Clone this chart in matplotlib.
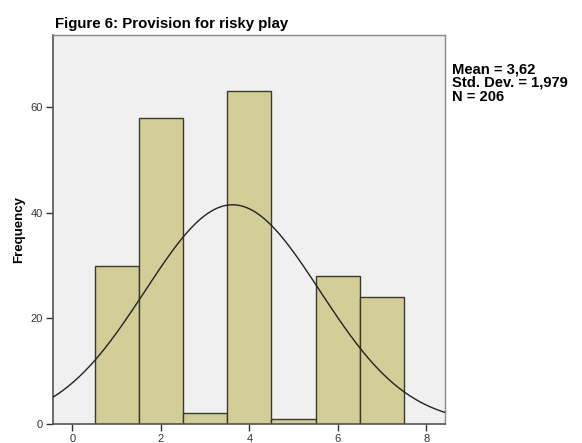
import numpy as np
import matplotlib.pyplot as plt

plt.rcParams['font.family'] = ['Liberation Sans', 'DejaVu Sans']

# frecuencias por categoria (1..7)
categorias = [1, 2, 3, 4, 5, 6, 7]
frecuencias = [30, 58, 2, 63, 1, 28, 24]
media = 3.62
desv = 1.979
n = 206

fig = plt.figure(figsize=(5.82, 4.43), dpi=100)
ax = fig.add_axes([0.091, 0.043, 0.674, 0.878])
ax.set_facecolor('#f0f0f0')

ax.bar(categorias, frecuencias, width=1.0, color='#d3ce97', edgecolor='#3a3a2a', linewidth=1.0, zorder=2)

# curva normal escalada a la frecuencia
xs = np.linspace(-0.44, 8.43, 300)
ys = n / (desv * np.sqrt(2 * np.pi)) * np.exp(-0.5 * ((xs - media) / desv) ** 2)
ax.plot(xs, ys, color='#222222', linewidth=1.0, zorder=3)

ax.set_xlim(-0.44, 8.43)
ax.set_ylim(0, 73.7)
ax.set_xticks([0, 2, 4, 6, 8])
ax.set_yticks([0, 20, 40, 60])
ax.tick_params(labelsize=8, colors='#333333', length=5, width=1, pad=2)
for lado in ['left', 'bottom']:
    ax.spines[lado].set_color('#555555')
    ax.spines[lado].set_linewidth(1.2)
for lado in ['top', 'right']:
    ax.spines[lado].set_color('#888888')
    ax.spines[lado].set_linewidth(1.0)

ax.set_ylabel('Frequency', fontsize=9.5, fontweight='bold', labelpad=4)
fig.text(0.094, 0.946, 'Figure 6: Provision for risky play', fontsize=10.8, fontweight='bold', va='center', ha='left')
fig.text(0.777, 0.813, 'Mean = 3,62\nStd. Dev. = 1,979\nN = 206', fontsize=10.6, fontweight='bold',
         va='center', ha='left', linespacing=0.98)

fig.savefig('out.png', dpi=100)
